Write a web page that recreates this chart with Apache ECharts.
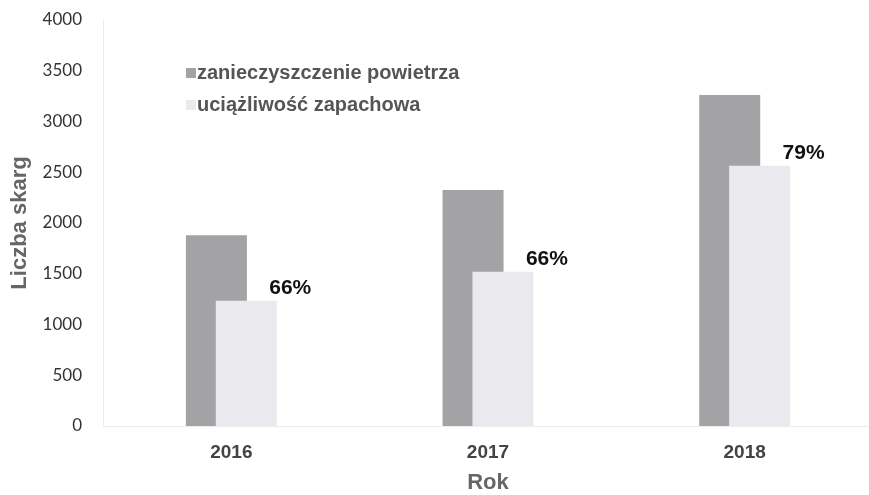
<!DOCTYPE html>
<html><head><meta charset="utf-8">
<script src="https://cdn.jsdelivr.net/npm/echarts@6/dist/echarts.min.js"></script>
<style>html,body{margin:0;padding:0;background:#fff}#c{width:869px;height:495px}</style>
</head><body><div id="c"></div>
<script>
const years = ['2016', '2017', '2018'];
const pollution = [1880, 2325, 3260];
const odour = [1235, 1520, 2565];
const pctLabels = ['66%', '66%', '79%'];
const seriesNames = ['zanieczyszczenie powietrza', 'uciążliwość zapachowa'];

const chart = echarts.init(document.getElementById('c'));
chart.setOption({
  backgroundColor: '#ffffff',
  animation: false,
  grid: { left: 103, right: -4, top: 20, bottom: 69, outerBoundsMode: 'none', containLabel: false },
  legend: {
    orient: 'vertical', left: 181, top: 58, itemGap: 12,
    itemWidth: 10, itemHeight: 10, icon: 'rect',
    textStyle: { fontFamily: 'Liberation Sans, Arial', fontWeight: 'bold', fontSize: 20, color: '#555', padding: [0,0,0,-4] },
    data: seriesNames
  },
  xAxis: {
    type: 'category', data: years,
    name: 'Rok', nameLocation: 'middle', nameGap: 46,
    nameTextStyle: { fontFamily: 'Liberation Sans, Arial', fontWeight: 'bold', fontSize: 22, color: '#666' },
    axisLine: { show: true, lineStyle: { color: '#ececec' } },
    axisTick: { show: false },
    axisLabel: { margin: 17, fontFamily: 'Liberation Sans, Arial', fontWeight: 'bold', fontSize: 19, color: '#444' }
  },
  yAxis: {
    type: 'value', min: 0, max: 4000, interval: 500,
    name: 'Liczba skarg', nameLocation: 'middle', nameGap: 72,
    nameTextStyle: { fontFamily: 'Liberation Sans, Arial', fontWeight: 'bold', fontSize: 22, color: '#666' },
    axisLine: { show: true, lineStyle: { color: '#ececec' } },
    axisTick: { show: false },
    splitLine: { show: false },
    axisLabel: { margin: 21, fontFamily: 'Lato, Open Sans', fontSize: 17, color: '#333', formatter: v => String(v) }
  },
  series: [
    { name: seriesNames[0], type: 'bar', data: pollution, barWidth: 61, barGap: '-51%',
      itemStyle: { color: '#a3a3a5' } },
    { name: seriesNames[1], type: 'bar', data: odour, barWidth: 61,
      itemStyle: { color: '#e9e9ee' },
      label: { show: true, position: 'top', offset: [44, 3],
        formatter: p => pctLabels[p.dataIndex],
        fontFamily: 'Liberation Sans, Arial', fontWeight: 'bold', fontSize: 21, color: '#111' } }
  ]
});
</script></body></html>
